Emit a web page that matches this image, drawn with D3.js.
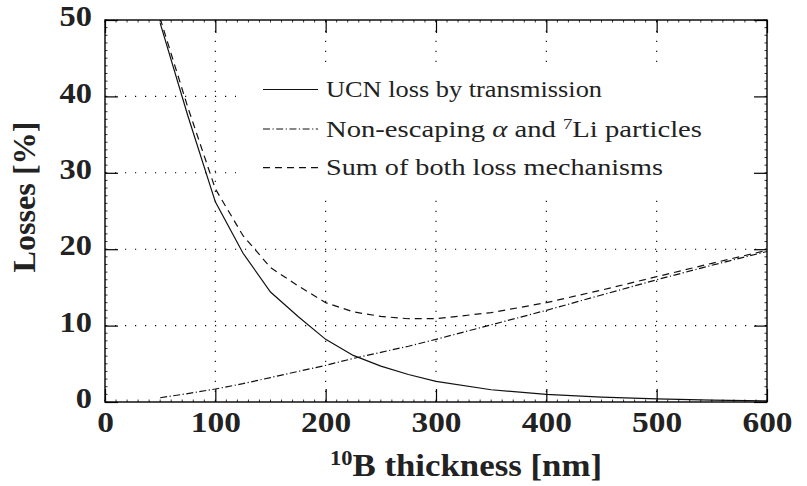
<!DOCTYPE html>
<html><head><meta charset="utf-8">
<script src="https://cdn.jsdelivr.net/npm/d3@7"></script>
<style>body{margin:0;background:#fff} svg{display:block}</style>
</head><body>
<svg id="c" width="807" height="486"></svg>
<script>
const thickness    = [50, 75, 100, 125, 150, 175, 200, 225, 250, 275, 300, 350, 400, 450, 500, 550, 600];
const transmission = [49.6, 37.5, 26.2, 19.5, 14.4, 11.2, 8.2, 6.1, 4.7, 3.6, 2.7, 1.6, 1.0, 0.65, 0.4, 0.25, 0.15];
const alphaLi      = [0.56, 1.1, 1.7, 2.4, 3.2, 4.0, 4.8, 5.7, 6.5, 7.3, 8.2, 10.1, 12.0, 14.0, 16.0, 17.9, 19.7];
const sumLoss      = [50.2, 38.6, 27.9, 21.8, 17.6, 15.2, 13.0, 11.8, 11.2, 10.9, 10.9, 11.7, 13.0, 14.65, 16.4, 18.15, 19.85];
const xTicks = [0, 100, 200, 300, 400, 500, 600];
const yTicks = [0, 10, 20, 30, 40, 50];
const legendNames = ["UCN loss by transmission", "Non-escaping α and 7Li particles", "Sum of both loss mechanisms"];

const M = {l:105, r:767, t:20, b:402};
const svg = d3.select("#c");
const x = d3.scaleLinear().domain([0,600]).range([M.l, M.r]);
const y = d3.scaleLinear().domain([0,50]).range([M.b, M.t]);
const W = M.r - M.l, H = M.b - M.t;

const serif = "'Liberation Serif', 'Times New Roman', serif";

// grid
const grid = svg.append("g").attr("stroke","#000").attr("stroke-width",1.1).attr("stroke-dasharray","1.2,8.8").attr("fill","none");
xTicks.filter(v=>v>0 && v<600).forEach(v=>{
  grid.append("line").attr("x1",x(v)).attr("x2",x(v)).attr("y1",M.b).attr("y2",M.t);
});
yTicks.filter(v=>v>0 && v<50).forEach(v=>{
  grid.append("line").attr("x1",M.l).attr("x2",M.r).attr("y1",y(v)).attr("y2",y(v));
});

// legend background
svg.append("rect").attr("x",236).attr("y",67).attr("width",M.r-236-1).attr("height",127).attr("fill","#fff");

// clip
svg.append("clipPath").attr("id","clip").append("rect").attr("x",M.l).attr("y",M.t).attr("width",W).attr("height",H);

const series = [
  {vals: transmission, dash: null},
  {vals: alphaLi, dash: "7,2.5,1.2,2.5"},
  {vals: sumLoss, dash: "7,5"}
];
const line = d3.line().x(d=>x(d[0])).y(d=>y(d[1]));
const curves = svg.append("g").attr("clip-path","url(#clip)");
series.forEach(s=>{
  curves.append("path").datum(thickness.map((t,i)=>[t,s.vals[i]]))
    .attr("d",line).attr("fill","none").attr("stroke","#111").attr("stroke-width",1.2)
    .attr("stroke-dasharray",s.dash);
});

// axes (inside ticks)
const tickLen = 13;
const fsTick = 30;
const gx = svg.append("g").attr("transform",`translate(0,${M.b})`)
  .call(d3.axisBottom(x).tickValues(xTicks).tickSize(-tickLen).tickPadding(9).tickSizeOuter(0));
const gxt = svg.append("g").attr("transform",`translate(0,${M.t})`)
  .call(d3.axisTop(x).tickValues(xTicks).tickSize(-tickLen).tickFormat("").tickSizeOuter(0));
const gy = svg.append("g").attr("transform",`translate(${M.l},0)`)
  .call(d3.axisLeft(y).tickValues(yTicks).tickSize(-tickLen).tickPadding(13).tickSizeOuter(0));
const gyr = svg.append("g").attr("transform",`translate(${M.r},0)`)
  .call(d3.axisRight(y).tickValues(yTicks).tickSize(-tickLen).tickFormat("").tickSizeOuter(0));
[gx,gxt,gy,gyr].forEach(g=>{
  g.select(".domain").remove();
  g.selectAll(".tick line").attr("stroke","#000").attr("stroke-width",1.2);
});
gx.selectAll("text").attr("font-family",serif).attr("font-weight","bold").attr("font-size",fsTick).attr("fill","#222")
  .attr("textLength",function(d){return String(d).length*16.7;}).attr("lengthAdjust","spacingAndGlyphs");
gy.selectAll("text").attr("font-family",serif).attr("font-weight","bold").attr("font-size",fsTick).attr("fill","#222")
  .attr("dy","0.19em")
  .attr("textLength",function(d){return String(d).length*16.2;}).attr("lengthAdjust","spacingAndGlyphs");

// minor ticks
const minor = svg.append("g").attr("stroke","#000").attr("stroke-width",0.8);
d3.range(0,601,10).forEach(v=>{
  minor.append("line").attr("x1",x(v)).attr("x2",x(v)).attr("y1",M.b).attr("y2",M.b-2.5);
  minor.append("line").attr("x1",x(v)).attr("x2",x(v)).attr("y1",M.t).attr("y2",M.t+2.5);
});
d3.range(0,51,1).forEach(v=>{
  minor.append("line").attr("x1",M.l).attr("x2",M.l+2.5).attr("y1",y(v)).attr("y2",y(v));
  minor.append("line").attr("x1",M.r).attr("x2",M.r-2.5).attr("y1",y(v)).attr("y2",y(v));
});

// frame
svg.append("rect").attr("x",M.l).attr("y",M.t).attr("width",W).attr("height",H)
  .attr("fill","none").attr("stroke","#000").attr("stroke-width",1.4);

// legend
const legY = [89.5, 129, 167.7];
const legWidths = [276, 376, 337];
const lg = svg.append("g");
series.forEach((s,i)=>{
  lg.append("line").attr("x1",263).attr("x2",318).attr("y1",legY[i]).attr("y2",legY[i])
    .attr("stroke","#111").attr("stroke-width",1.2).attr("stroke-dasharray",s.dash);
});
const fsLeg = 23;
legendNames.forEach((name,i)=>{
  const t = lg.append("text").attr("x",326).attr("y",legY[i]+7.5)
    .attr("font-family",serif).attr("font-size",fsLeg).attr("fill","#222")
    .attr("textLength",legWidths[i]).attr("lengthAdjust","spacingAndGlyphs");
  if(i===1){
    t.append("tspan").text("Non-escaping ");
    t.append("tspan").attr("font-style","italic").text("α");
    t.append("tspan").text(" and ");
    t.append("tspan").attr("dy",-8).attr("font-size",15).text("7");
    t.append("tspan").attr("dy",8).text("Li particles");
  } else {
    t.text(name);
  }
});

// axis titles
const xt = svg.append("text").attr("x",330).attr("y",476)
  .attr("font-family",serif).attr("font-weight","bold").attr("font-size",31).attr("fill","#222")
  .attr("textLength",272).attr("lengthAdjust","spacingAndGlyphs");
xt.append("tspan").attr("dy",-11).attr("font-size",20).text("10");
xt.append("tspan").attr("dy",11).text("B thickness [nm]");

svg.append("text").attr("transform","translate(35,197) rotate(-90)").attr("text-anchor","middle")
  .attr("font-family",serif).attr("font-weight","bold").attr("font-size",32).attr("fill","#222")
  .attr("textLength",151).attr("lengthAdjust","spacingAndGlyphs")
  .text("Losses [%]");
</script>
</body></html>
